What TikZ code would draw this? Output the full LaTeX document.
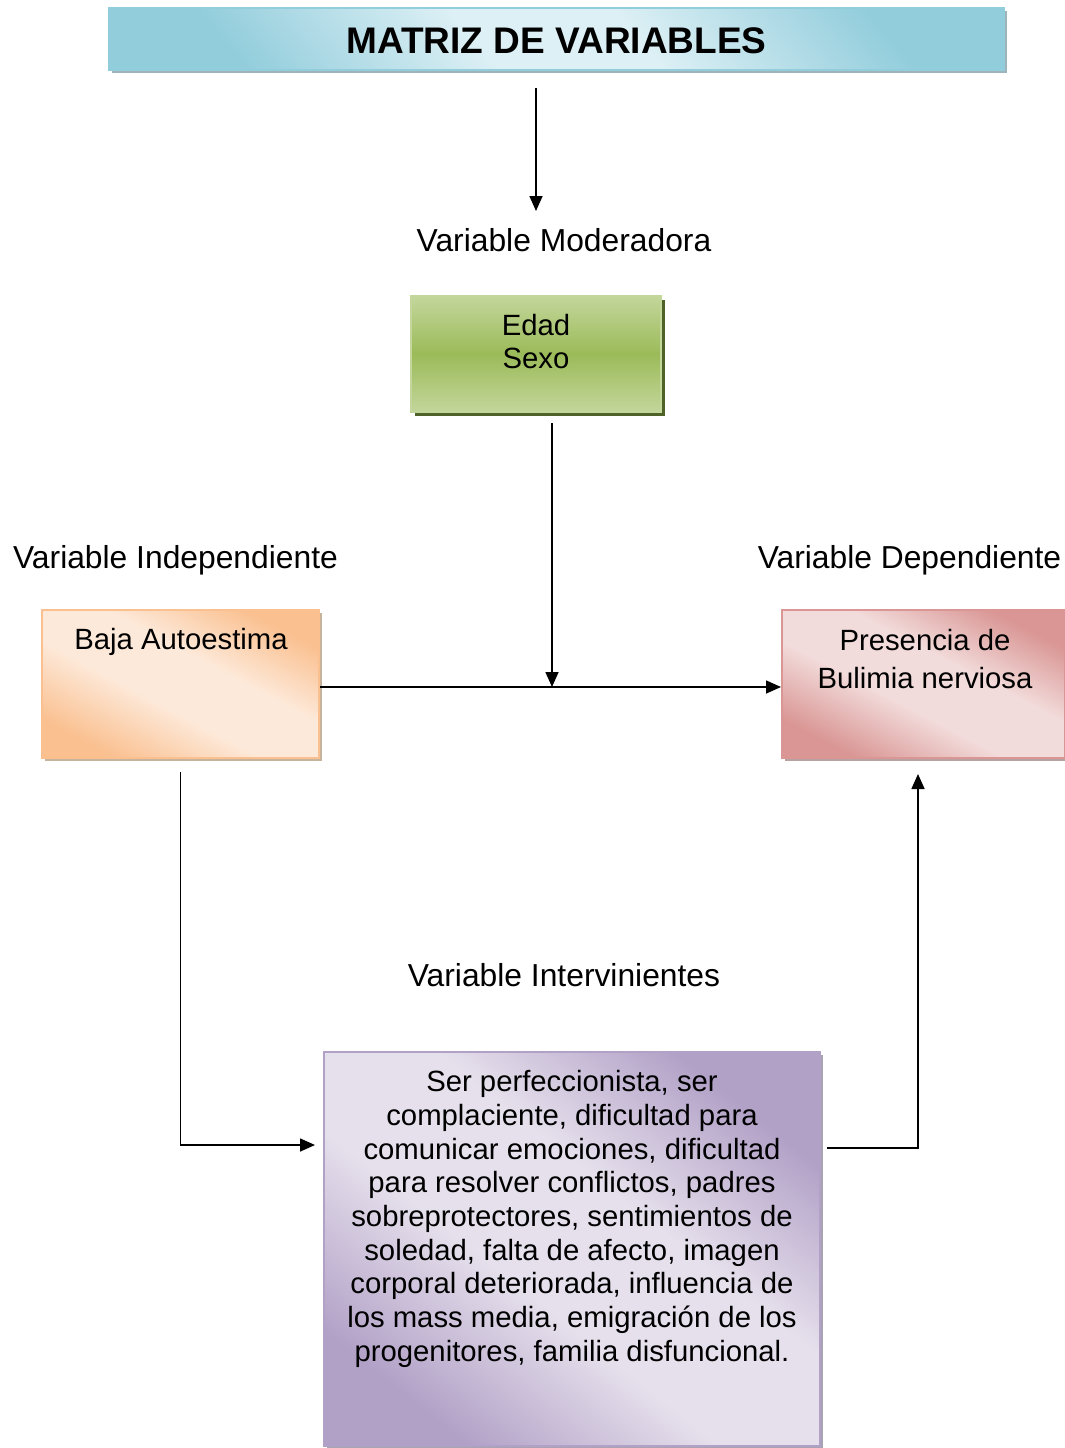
\documentclass[tikz,border=0pt]{standalone}
\usepackage{fontspec}
\setmainfont{Liberation Sans}
\usetikzlibrary{arrows.meta,calc,shadows}
\definecolor{tblue}{HTML}{92CDDC}
\definecolor{tlight}{HTML}{DDF0F5}
\definecolor{tshadow}{HTML}{9FB3BB}
\definecolor{gdark}{HTML}{9BBB59}
\definecolor{glight}{HTML}{C3D69B}
\definecolor{gshadow}{HTML}{4F6228}
\definecolor{odark}{HTML}{FAC090}
\definecolor{olight}{HTML}{FDE9D9}
\definecolor{oshadow}{HTML}{C7B29C}
\definecolor{pdark}{HTML}{D99694}
\definecolor{plight}{HTML}{F2DCDB}
\definecolor{pshadow}{HTML}{B8A2A1}
\definecolor{vdark}{HTML}{B2A1C7}
\definecolor{vlight}{HTML}{E6E0EC}
\definecolor{vshadow}{HTML}{A9A2B3}
\pgfdeclareverticalshading{tshade}{100bp}{color(0bp)=(tblue); color(25bp)=(tblue); color(44bp)=(tlight); color(56bp)=(tlight); color(75bp)=(tblue); color(100bp)=(tblue)}
\pgfdeclareverticalshading{oshade}{100bp}{color(0bp)=(odark); color(25bp)=(odark); color(43bp)=(olight); color(58bp)=(olight); color(75bp)=(odark); color(100bp)=(odark)}
\pgfdeclareverticalshading{pshade}{100bp}{color(0bp)=(pdark); color(25bp)=(pdark); color(43bp)=(plight); color(58bp)=(plight); color(75bp)=(pdark); color(100bp)=(pdark)}
\pgfdeclareverticalshading{vshade}{100bp}{color(0bp)=(vdark); color(25bp)=(vdark); color(43bp)=(vlight); color(58bp)=(vlight); color(75bp)=(vdark); color(100bp)=(vdark)}
\begin{document}
\begin{tikzpicture}[x=1pt,y=-1pt,
  boxbase/.style={rectangle, inner sep=0pt, line width=2pt},
  diagshade/.style 2 args={shade, shading=#1, shading angle=#2},
  lbl/.style={inner sep=0pt, font=\fontsize{31.8}{36}\selectfont},
  boxtext/.style={inner sep=0pt, align=center, font=\fontsize{29.3}{33.7}\selectfont},
  arr/.style={-{Triangle[length=15pt,width=13pt]}, line width=1.6pt}]
\useasboundingbox (0,0) rectangle (1065,1448);

% title
\node[boxbase, draw=tblue, diagshade={tshade}{-50},
  drop shadow={shadow xshift=3pt, shadow yshift=-3pt, fill=tshadow, opacity=1},
  minimum width=895pt, minimum height=62pt] (title) at (556.5,39) {};
\node[inner sep=0pt, font=\bfseries\fontsize{37}{40}\selectfont] (titletxt) at (556.5,41) {MATRIZ DE VARIABLES};

% moderadora
\node[lbl] (modlbl) at (564,240) {Variable Moderadora};
\node[boxbase, draw=glight, top color=glight, bottom color=glight, middle color=gdark,
  drop shadow={shadow xshift=4pt, shadow yshift=-4pt, fill=gshadow, opacity=1},
  minimum width=250pt, minimum height=116pt] (green) at (536,354) {};
\node[boxtext, font=\fontsize{29.3}{33}\selectfont] (greentxt) at (536,341.5) {Edad\\Sexo};

% independiente
\node[lbl] (indlbl) at (175.5,560) {Variable Independiente};
\node[boxbase, draw=odark, diagshade={oshade}{-28},
  drop shadow={shadow xshift=3pt, shadow yshift=-3pt, fill=oshadow, opacity=1},
  minimum width=277pt, minimum height=148pt] (orange) at (180.5,684) {};
\node[boxtext] (orangetxt) at (181,642) {Baja Autoestima};

% dependiente
\node[lbl] (deplbl) at (909.5,560) {Variable Dependiente};
\node[boxbase, draw=pdark, diagshade={pshade}{-27.6},
  drop shadow={shadow xshift=3pt, shadow yshift=-3pt, fill=pshadow, opacity=1},
  minimum width=283pt, minimum height=148pt] (pink) at (923.5,684) {};
\node[boxtext, font=\fontsize{29.3}{38}\selectfont] (pinktxt) at (925,659) {Presencia de\\Bulimia nerviosa};

% intervinientes
\node[lbl] (intlbl) at (564,975) {Variable Intervinientes};
\node[boxbase, draw=vdark, diagshade={vshade}{-38.5},
  drop shadow={shadow xshift=3pt, shadow yshift=-3pt, fill=vshadow, opacity=1},
  minimum width=496pt, minimum height=394pt] (purple) at (572,1249) {};
\node[boxtext] (purpletxt) at (572,1219) {Ser perfeccionista, ser\\
complaciente, dificultad para\\
comunicar emociones, dificultad\\
para resolver conflictos, padres\\
sobreprotectores, sentimientos de\\
soledad, falta de afecto, imagen\\
corporal deteriorada, influencia de\\
los mass media, emigración de los\\
progenitores, familia disfuncional.};

% connectors
\coordinate (a1) at (536,211);
\coordinate (j) at (552,687);
\coordinate (yin) at (0,1145);
\coordinate (yout) at (0,1148);

\draw[arr] ([yshift=-17pt]title.south -| a1) -- (a1);
\draw[arr] ([yshift=-10pt]green.south -| j) -- (j);
\draw[arr] (orange.east |- j) -- (pink.west |- j);
\draw[arr] ([yshift=-13pt]orange.south) |- ([xshift=-8pt]purple.west |- yin);
\draw[arr] ([xshift=6pt]purple.east |- yout) -| ([xshift=-5.5pt,yshift=-15pt]pink.south);
\end{tikzpicture}
\end{document}
